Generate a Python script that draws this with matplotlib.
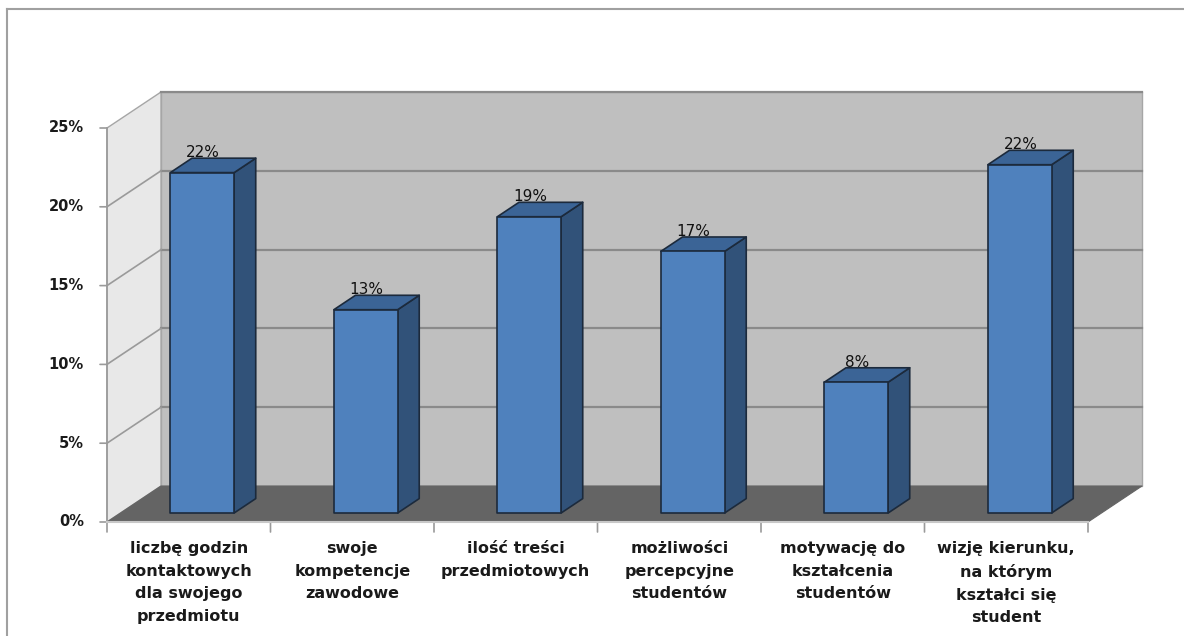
import matplotlib.pyplot as plt
from matplotlib.patches import Polygon
from matplotlib.lines import Line2D

categories = [
    'liczbę godzin\nkontaktowych\ndla swojego\nprzedmiotu',
    'swoje\nkompetencje\nzawodowe',
    'ilość treści\nprzedmiotowych',
    'możliwości\npercepcyjne\nstudentów',
    'motywację do\nkształcenia\nstudentów',
    'wizję kierunku,\nna którym\nkształci się\nstudent',
]
values = [21.6, 12.9, 18.8, 16.6, 8.3, 22.1]
y_ticks = [0, 5, 10, 15, 20, 25]
y_tick_labels = ['0%', '5%', '10%', '15%', '20%', '25%']

W, H = 1184, 636
fig = plt.figure(figsize=(W / 100, H / 100), dpi=100)
fig.patch.set_facecolor('white')

# front plane of the 3D box: x in categories, y in percent
ax = fig.add_axes([107 / W, 1 - 522 / H, 981 / W, 394 / H])
n = len(categories)
ymax = y_ticks[-1]
ax.set_xlim(0, n)
ax.set_ylim(0, ymax)
ax.axis('off')

# oblique depth vector (one full depth unit) in data units
DX = 54 / 981 * n
DY = 36 / 394 * ymax


def proj(x, y, d):
    return (x + d * DX, y + d * DY)


def face(pts, fc, ec, lw=1.0, z=1):
    ax.add_patch(Polygon([proj(*p) for p in pts], closed=True, facecolor=fc,
                         edgecolor=ec, linewidth=lw, zorder=z, clip_on=False,
                         joinstyle='round'))


grid_col = '#8a8a8a'

# walls and floor
face([(0, 0, 1), (n, 0, 1), (n, ymax, 1), (0, ymax, 1)], '#bfbfbf', '#a6a6a6', 1.0, 1)
face([(0, 0, 0), (0, ymax, 0), (0, ymax, 1), (0, 0, 1)], '#e8e8e8', '#a6a6a6', 1.0, 1)

for t in y_ticks[1:-1]:
    x0, y0 = proj(0, t, 1)
    x1, y1 = proj(n, t, 1)
    ax.plot([x0, x1], [y0, y1], color=grid_col, lw=1.6, zorder=2, clip_on=False)
    xa, ya = proj(0, t, 0)
    ax.plot([xa, x0], [ya, y0], color='#9a9a9a', lw=1.2, zorder=2, clip_on=False)
x0, y0 = proj(0, ymax, 1)
x1, y1 = proj(n, ymax, 1)
ax.plot([x0, x1], [y0, y1], color=grid_col, lw=1.6, zorder=2, clip_on=False)

face([(0, 0, 0), (n, 0, 0), (n, 0, 1), (0, 0, 1)], '#646464', '#646464', 0.8, 3)

# axis lines and ticks
ax.plot([0, 0], [0, ymax], color='#9a9a9a', lw=1.2, zorder=4, clip_on=False)
ax.plot([0, n], [0, 0], color='#c8c8c8', lw=1.5, zorder=4, clip_on=False)
for t, lab in zip(y_ticks, y_tick_labels):
    ax.annotate('', xy=(0, t), xytext=(-7, 0), textcoords='offset pixels',
                arrowprops=dict(arrowstyle='-', color='#9a9a9a', lw=1.2,
                                shrinkA=0, shrinkB=0))
    ax.annotate(lab, xy=(0, t), xytext=(-23, 0), textcoords='offset pixels',
                ha='right', va='center', fontsize=10.5, fontweight='bold',
                color='#1a1a1a')
for i in range(n + 1):
    ax.annotate('', xy=(i, 0), xytext=(0, -10), textcoords='offset pixels',
                arrowprops=dict(arrowstyle='-', color='#9a9a9a', lw=1.2,
                                shrinkA=0, shrinkB=0))

# category labels
for i, lab in enumerate(categories):
    ax.annotate(lab, xy=(i + 0.5, 0), xytext=(0, -19), textcoords='offset pixels',
                ha='center', va='top', fontsize=11.5, fontweight='bold',
                linespacing=1.63, color='#1a1a1a')

# 3D bars
bw = 0.39
d0, d1 = 0.25, 0.65
edge = '#1c2a3c'
for i, v in enumerate(values):
    xl = i + 0.5 - bw / 2
    xr = i + 0.5 + bw / 2
    face([(xr, 0, d0), (xr, 0, d1), (xr, v, d1), (xr, v, d0)], '#315279', edge, 1.2, 5)
    face([(xl, v, d0), (xr, v, d0), (xr, v, d1), (xl, v, d1)], '#3b6496', edge, 1.2, 5)
    face([(xl, 0, d0), (xr, 0, d0), (xr, v, d0), (xl, v, d0)], '#4f81bd', edge, 1.2, 6)
    ax.annotate(f'{v:.0f}%', xy=proj(i + 0.5, v, d0), xytext=(1, 20),
                textcoords='offset pixels', ha='center', va='center',
                fontsize=11, color='#111111', zorder=7)

# outer frame
fig.add_artist(Line2D([7 / W, 1], [1 - 9 / H, 1 - 9 / H], transform=fig.transFigure,
                      color='#a0a0a0', lw=1.5))
fig.add_artist(Line2D([7 / W, 7 / W], [0, 1 - 9 / H], transform=fig.transFigure,
                      color='#a0a0a0', lw=1.5))

fig.savefig('out.png', dpi=100, facecolor='white')
